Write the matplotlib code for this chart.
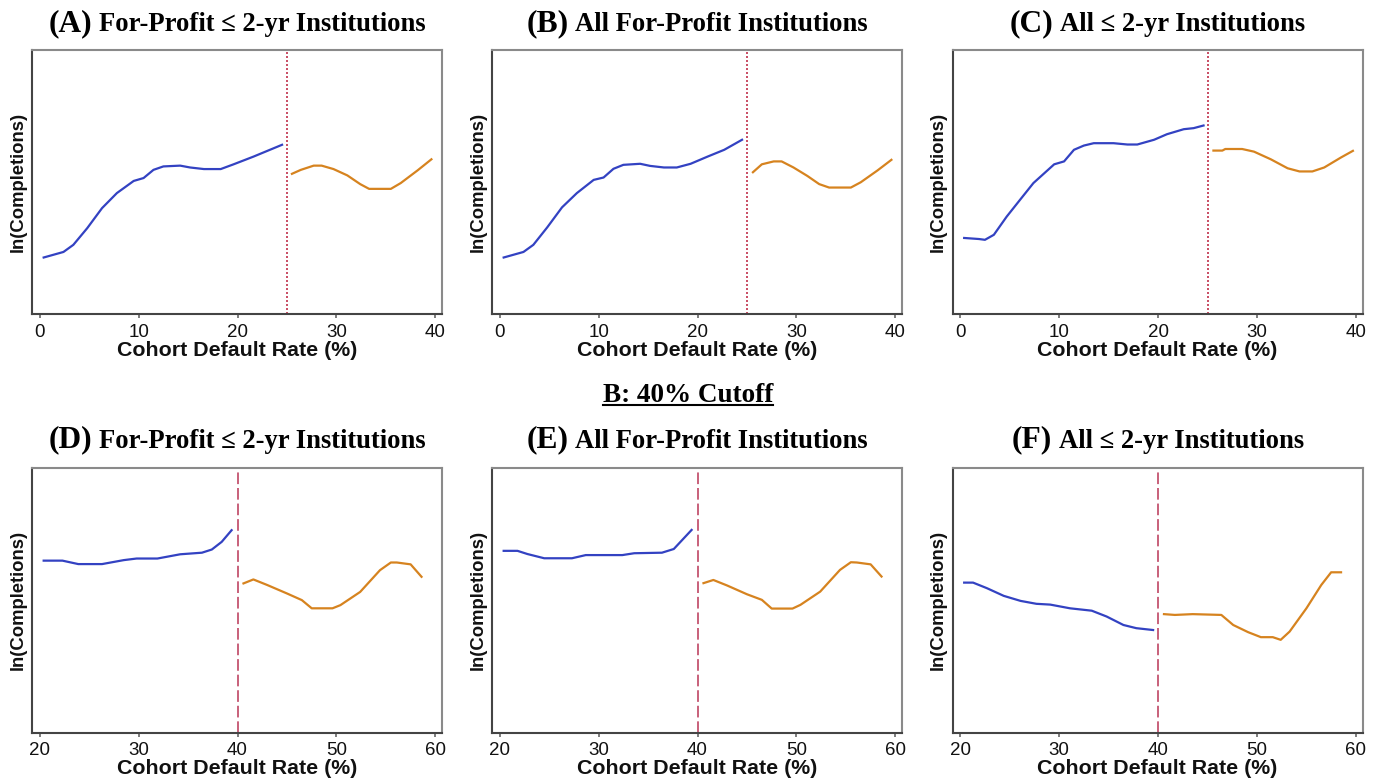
import numpy as np
import matplotlib
matplotlib.use("Agg")
import matplotlib.pyplot as plt
from matplotlib.lines import Line2D

# ---- data (y = relative position of the smoothed fit, 0 = bottom of panel, 100 = top) ----
ylim = (0, 100)

# A: For-Profit <= 2-yr, 25% cutoff
A_x_left = [0.4, 2.4, 3.4, 4.8, 6.3, 7.8, 9.5, 10.5, 11.5, 12.5, 14.2, 15.2, 16.6, 18.3, 19.6, 21.6, 24.5]
A_y_left = [21.4, 23.5, 26.2, 32.5, 40.1, 45.8, 50.4, 51.5, 54.6, 55.9, 56.2, 55.5, 54.9, 54.9, 56.7, 59.6, 64.1]
A_x_right = [25.5, 26.4, 27.7, 28.5, 29.7, 31.1, 32.4, 33.3, 35.5, 36.5, 38.2, 39.6]
A_y_right = [53.1, 54.6, 56.2, 56.2, 54.9, 52.5, 49.2, 47.4, 47.4, 49.6, 54.4, 58.6]

# B: All For-Profit, 25% cutoff
B_x_left = [0.4, 2.4, 3.4, 4.8, 6.3, 7.8, 9.5, 10.5, 11.5, 12.5, 14.2, 15.2, 16.6, 17.9, 19.3, 21.0, 22.7, 24.5]
B_y_left = [21.4, 23.5, 26.2, 32.8, 40.4, 45.8, 50.8, 51.7, 55.0, 56.5, 56.9, 56.1, 55.5, 55.5, 56.9, 59.6, 62.2, 66.0]
B_x_right = [25.6, 26.5, 27.7, 28.5, 29.7, 31.1, 32.3, 33.3, 35.5, 36.5, 38.2, 39.6]
B_y_right = [53.7, 56.7, 57.8, 57.8, 55.5, 52.3, 49.2, 47.9, 47.9, 49.9, 54.4, 58.4]

# C: All <= 2-yr, 25% cutoff
C_x_left = [0.4, 1.9, 2.5, 3.4, 4.7, 6.1, 7.4, 9.5, 10.5, 11.5, 12.5, 13.5, 15.5, 16.9, 17.9, 19.6, 20.9, 22.6, 23.6, 24.6]
C_y_left = [28.8, 28.4, 28.1, 30.0, 36.9, 43.5, 49.6, 56.7, 57.8, 62.2, 63.8, 64.7, 64.7, 64.2, 64.2, 66.0, 68.1, 70.0, 70.4, 71.4]
C_x_right = [25.6, 26.5, 26.8, 28.5, 29.7, 31.4, 33.1, 34.3, 35.6, 36.8, 38.5, 39.7]
C_y_right = [61.9, 61.9, 62.5, 62.5, 61.5, 58.6, 55.2, 54.0, 54.0, 55.5, 59.3, 61.8]

# D: For-Profit <= 2-yr, 40% cutoff
D_x_left = [20.4, 22.3, 23.9, 26.3, 28.5, 29.8, 31.9, 34.2, 36.4, 37.4, 38.4, 39.4]
D_y_left = [64.9, 64.9, 63.6, 63.6, 65.1, 65.7, 65.7, 67.3, 67.9, 69.1, 72.0, 76.4]
D_x_right = [40.6, 41.6, 43.0, 45.0, 46.5, 47.5, 49.6, 50.4, 52.4, 54.4, 55.5, 56.1, 57.5, 58.6]
D_y_right = [56.3, 57.8, 55.7, 52.5, 50.0, 46.9, 46.9, 48.1, 53.1, 61.3, 64.2, 64.2, 63.5, 58.8]

# E: All For-Profit, 40% cutoff
E_x_left = [20.4, 21.8, 22.8, 24.5, 27.3, 28.7, 32.4, 33.6, 36.4, 37.6, 39.4]
E_y_left = [68.6, 68.6, 67.4, 65.8, 65.8, 67.0, 67.0, 67.7, 67.9, 69.3, 76.5]
E_x_right = [40.6, 41.6, 43.0, 45.0, 46.5, 47.5, 49.6, 50.4, 52.4, 54.4, 55.5, 56.1, 57.5, 58.6]
E_y_right = [56.4, 57.6, 55.5, 52.2, 50.1, 46.8, 46.8, 48.2, 53.2, 61.4, 64.3, 64.2, 63.5, 58.9]

# F: All <= 2-yr, 40% cutoff
F_x_left = [20.4, 21.3, 22.7, 24.4, 26.1, 27.7, 29.1, 31.1, 33.3, 34.8, 36.5, 37.8, 39.5]
F_y_left = [56.6, 56.6, 54.5, 51.6, 49.7, 48.6, 48.3, 46.9, 46.0, 43.8, 40.6, 39.4, 38.7]
F_x_right = [40.6, 41.7, 43.5, 46.4, 47.6, 49.1, 50.4, 51.6, 52.4, 53.3, 55.0, 56.5, 57.5, 58.5]
F_y_right = [44.7, 44.4, 44.7, 44.4, 40.6, 37.9, 36.0, 36.0, 35.0, 38.1, 46.9, 55.7, 60.5, 60.5]

tags = ["(A)", "(B)", "(C)", "(D)", "(E)", "(F)"]
titles = ["For-Profit \u2264 2-yr Institutions", "All For-Profit Institutions",
          "All \u2264 2-yr Institutions"] * 2
cutoffs = [25, 25, 25, 40, 40, 40]
xticks_top = [0, 10, 20, 30, 40]
xticks_bottom = [20, 30, 40, 50, 60]

SERIF = ["Liberation Serif", "DejaVu Serif"]
SANS = ["Liberation Sans", "DejaVu Sans"]
BLUE = "#3342c2"
ORANGE = "#d6831f"

W, H = 1383, 782
fig = plt.figure(figsize=(W / 100, H / 100), dpi=100)

lefts = [32, 492, 952.5]
panels = [
    (A_x_left, A_y_left, A_x_right, A_y_right),
    (B_x_left, B_y_left, B_x_right, B_y_right),
    (C_x_left, C_y_left, C_x_right, C_y_right),
    (D_x_left, D_y_left, D_x_right, D_y_right),
    (E_x_left, E_y_left, E_x_right, E_y_right),
    (F_x_left, F_y_left, F_x_right, F_y_right),
]

axes = []
for i, (xl, yl, xr, yr) in enumerate(panels):
    row, col = divmod(i, 3)
    top_px = 50 if row == 0 else 467.7
    bot_px = 314 if row == 0 else 732.5
    ax = fig.add_axes([lefts[col] / W, 1 - bot_px / H, 410 / W, (bot_px - top_px) / H])
    ax.plot(xl, yl, color=BLUE, lw=1.6)
    ax.plot(xr, yr, color=ORANGE, lw=1.6)
    if row == 0:
        ax.axvline(cutoffs[i], color="#c0304a", lw=1.2, ls=(0, (1.2, 1.2)))
        ax.set_xlim(-0.78, 40.67)
        ax.set_xticks(xticks_top)
    else:
        ax.axvline(cutoffs[i], color="#c8607a", lw=1.4, ls=(0, (6, 2)))
        ax.set_xlim(19.22, 60.67)
        ax.set_xticks(xticks_bottom)
    ax.set_ylim(*ylim)
    ax.set_yticks([])
    for s in ["left", "bottom"]:
        ax.spines[s].set_color("#444444")
        ax.spines[s].set_linewidth(1.5)
    for s in ["top", "right"]:
        ax.spines[s].set_color("#8a8a8a")
        ax.spines[s].set_linewidth(1.5)
    ax.tick_params(axis="x", length=3, width=1.2, color="#666666", pad=4,
                   labelsize=13.5, labelcolor="#111111")
    for lab in ax.get_xticklabels():
        lab.set_family(SANS)
    ax.set_xlabel("Cohort Default Rate (%)", family=SANS, fontsize=15.4, weight="bold",
                  color="#111111", labelpad=0)
    ax.set_ylabel("ln(Completions)", family=SANS, fontsize=13.3, weight="bold",
                  color="#111111", labelpad=4)
    axes.append(ax)

# panel titles: larger tag + smaller text, centred over each panel
title_parts = []
for i, ax in enumerate(axes):
    base_px = 31 if i < 3 else 447.7
    t1 = fig.text(0, 1 - base_px / H, tags[i], family=SERIF, weight="bold", fontsize=22.7,
                  ha="left", va="baseline")
    t2 = fig.text(0, 1 - base_px / H, titles[i], family=SERIF, weight="bold", fontsize=19.2,
                  ha="left", va="baseline")
    title_parts.append((ax, t1, t2))

header = fig.text(688 / W, 1 - 402 / H, "B: 40% Cutoff", family=SERIF, weight="bold",
                  fontsize=19.5, ha="center", va="baseline")

fig.canvas.draw()
r = fig.canvas.get_renderer()
for ax, t1, t2 in title_parts:
    w1 = t1.get_window_extent(r).width
    w2 = t2.get_window_extent(r).width
    gap = 7
    bb = ax.get_window_extent(r)
    cx = (bb.x0 + bb.x1) / 2
    x0 = cx - (w1 + gap + w2) / 2
    t1.set_x(x0 / W)
    t2.set_x((x0 + w1 + gap) / W)

hb = header.get_window_extent(r)
uy = 1 - 405.5 / H
fig.add_artist(Line2D([hb.x0 / W, hb.x1 / W], [uy, uy], color="black", lw=1.5,
                      transform=fig.transFigure))

fig.savefig("out.png", dpi=100)
